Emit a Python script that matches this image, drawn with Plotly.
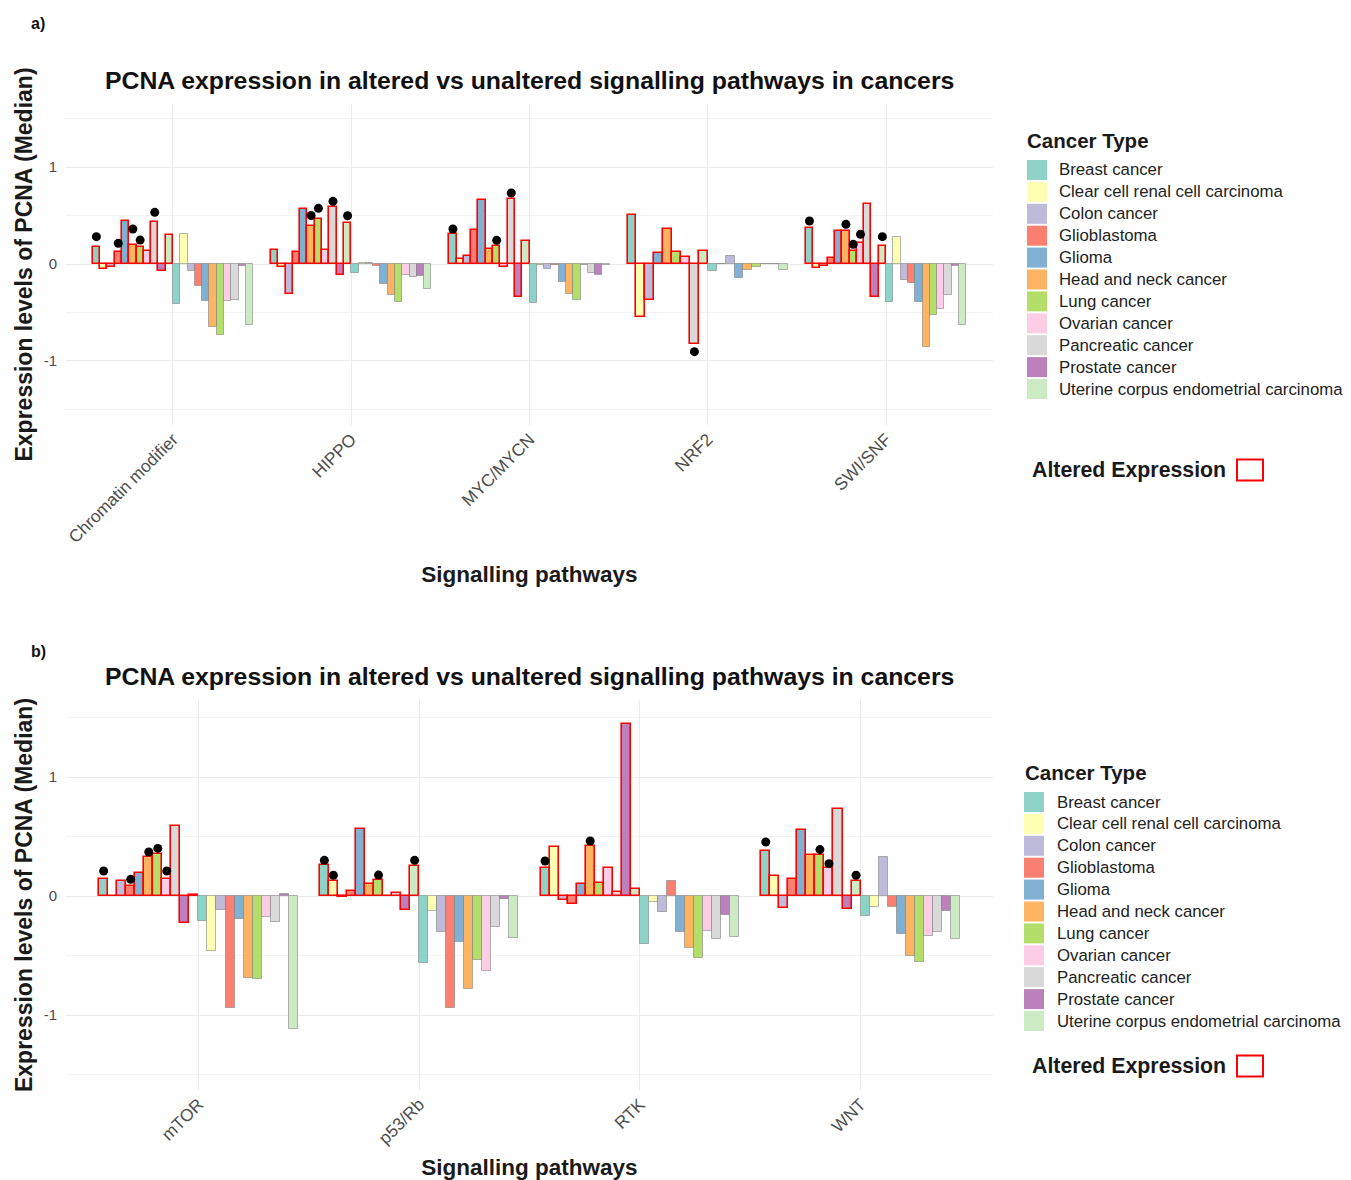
import plotly.graph_objects as go

# ---------------- data ----------------
CANCERS = ["Breast cancer", "Clear cell renal cell carcinoma", "Colon cancer",
           "Glioblastoma", "Glioma", "Head and neck cancer", "Lung cancer",
           "Ovarian cancer", "Pancreatic cancer", "Prostate cancer",
           "Uterine corpus endometrial carcinoma"]
COLORS = ["#8DD3C7", "#FFFFB3", "#BEBADA", "#FB8072", "#80B1D3", "#FDB462",
          "#B3DE69", "#FCCDE5", "#D9D9D9", "#BC80BD", "#CCEBC5"]

# Panel a
A_PATHWAYS = ["Chromatin modifier", "HIPPO", "MYC/MYCN", "NRF2", "SWI/SNF"]
A_ALTERED = [
    [0.179, -0.055, -0.027, 0.124, 0.447, 0.196, 0.179, 0.137, 0.430, -0.069, 0.296],
    [0.141, -0.034, -0.313, 0.124, 0.564, 0.395, 0.467, 0.141, 0.591, -0.110, 0.426],
    [0.309, 0.055, 0.082, 0.351, 0.660, 0.155, 0.189, -0.034, 0.667, -0.337, 0.237],
    [0.505, -0.550, -0.371, None, 0.117, 0.361, 0.127, 0.069, -0.825, None, 0.137],
    [0.375, -0.038, -0.017, 0.058, 0.344, 0.344, 0.134, 0.213, 0.619, -0.340, 0.189],
]
A_UNALTERED = [
    [-0.416, 0.306, -0.069, -0.227, -0.381, -0.646, -0.735, -0.378, -0.371, -0.021, -0.625],
    [-0.096, 0.010, 0.010, -0.020, -0.203, -0.320, -0.392, -0.113, -0.134, -0.127, -0.261],
    [-0.399, -0.005, -0.052, -0.005, -0.182, -0.313, -0.371, -0.005, -0.096, -0.117, -0.010],
    [-0.072, 0.005, 0.082, None, -0.141, -0.065, -0.027, 0.003, -0.003, None, -0.065],
    [-0.392, 0.282, -0.162, -0.199, -0.388, -0.856, -0.529, -0.467, -0.316, -0.024, -0.625],
]
A_DOT_PATHWAY = [0, 0, 0, 0, 0, 1, 1, 1, 1, 2, 2, 2, 3, 4, 4, 4, 4, 4]
A_DOT_CANCER = [0, 3, 5, 6, 8, 5, 6, 8, 10, 0, 6, 8, 8, 0, 5, 6, 7, 10]
A_DOT_VALUE = [0.282, 0.213, 0.361, 0.247, 0.533, 0.500, 0.574, 0.646, 0.498,
               0.361, 0.244, 0.732, -0.904, 0.443, 0.409, 0.203, 0.306, 0.282]

# Panel b
B_PATHWAYS = ["mTOR", "p53/Rb", "RTK", "WNT"]
B_ALTERED = [
    [0.140, 0.003, 0.123, 0.087, 0.190, 0.330, 0.356, 0.140, 0.585, -0.227, 0.010],
    [0.258, 0.126, -0.008, 0.042, 0.560, 0.104, 0.137, 0.003, 0.025, -0.115, 0.252],
    [0.238, 0.415, -0.034, -0.064, 0.098, 0.420, 0.112, 0.232, 0.034, 1.443, 0.062],
    [0.378, 0.171, -0.098, 0.143, 0.557, 0.342, 0.347, 0.232, 0.728, -0.112, 0.126],
]
B_UNALTERED = [
    [-0.213, -0.462, -0.115, -0.938, -0.190, -0.690, -0.695, -0.176, -0.221, 0.020, -1.115],
    [-0.563, -0.126, -0.305, -0.938, -0.387, -0.779, -0.540, -0.630, -0.260, -0.028, -0.353],
    [-0.406, -0.050, -0.132, 0.126, -0.300, -0.440, -0.520, -0.294, -0.360, -0.162, -0.345],
    [-0.171, -0.092, 0.328, -0.092, -0.317, -0.504, -0.557, -0.333, -0.303, -0.126, -0.361],
]
B_DOT_PATHWAY = [0, 0, 0, 0, 0, 1, 1, 1, 1, 2, 2, 3, 3, 3, 3]
B_DOT_CANCER = [0, 3, 5, 6, 7, 0, 1, 6, 10, 0, 5, 0, 6, 7, 10]
B_DOT_VALUE = [0.21, 0.14, 0.37, 0.40, 0.21, 0.30, 0.174, 0.176, 0.30,
               0.294, 0.462, 0.454, 0.39, 0.272, 0.174]

TITLE = "PCNA expression in altered vs unaltered signalling pathways in cancers"
Y_TITLE = "Expression levels of PCNA (Median)"
X_TITLE = "Signalling pathways"
LEGEND_TITLE = "Cancer Type"
ALT_TITLE = "Altered Expression"
FONT = "Liberation Sans, Arial, sans-serif"

# ---------------- page geometry ----------------
OFF = 8                      # default body margin of the html page
W, H = 1351 - OFF, 1180 - OFF


def px(x):
    return (x - OFF) / W


def py(y):
    return 1 - (y - OFF) / H


def dodge(altered, unaltered, total_width=0.9):
    """ggplot-like position_dodge: split each category among the bars present."""
    pos = {}
    for p in range(len(altered)):
        present = [(s, c) for s, vals in enumerate((altered[p], unaltered[p]))
                   for c, v in enumerate(vals) if v is not None]
        w = total_width / len(present)
        for k, (s, c) in enumerate(present):
            pos[(p, s, c)] = (p + 1 - total_width / 2 + (k + 0.5) * w, w)
    return pos


fig = go.Figure()


def add_panel(altered, unaltered, dot_p, dot_c, dot_v, xa, ya):
    pos = dodge(altered, unaltered)
    for s, data in enumerate((altered, unaltered)):
        for c, name in enumerate(CANCERS):
            xs, ys, ws = [], [], []
            for p in range(len(data)):
                v = data[p][c]
                if v is None:
                    continue
                x, w = pos[(p, s, c)]
                xs.append(x); ys.append(v); ws.append(w)
            line = dict(color="red", width=1.6) if s == 0 else \
                dict(color="rgba(120,120,120,0.55)", width=1)
            fig.add_trace(go.Bar(
                x=xs, y=ys, width=ws, name=name + (" (altered)" if s == 0 else ""),
                marker=dict(color=COLORS[c], line=line),
                xaxis=xa, yaxis=ya, showlegend=False))
    dx = [pos[(p, 0, c)][0] for p, c in zip(dot_p, dot_c)]
    fig.add_trace(go.Scatter(
        x=dx, y=dot_v, mode="markers",
        marker=dict(color="black", size=9),
        xaxis=xa, yaxis=ya, showlegend=False))


add_panel(A_ALTERED, A_UNALTERED, A_DOT_PATHWAY, A_DOT_CANCER, A_DOT_VALUE, "x", "y")
add_panel(B_ALTERED, B_UNALTERED, B_DOT_PATHWAY, B_DOT_CANCER, B_DOT_VALUE, "x2", "y2")

XDOM = [px(66), px(993)]
GRID = "#EBEBEB"


def xaxis(labels, anchor, standoff):
    return dict(domain=XDOM, range=[0.4, len(labels) + 0.6],
                tickmode="array", tickvals=list(range(1, len(labels) + 1)),
                ticktext=labels, tickangle=-45, showgrid=True, gridcolor=GRID,
                gridwidth=1, zeroline=False, showline=False, ticks="",
                tickfont=dict(size=17.3, color="#4D4D4D"), anchor=anchor,
                title=dict(text="<b>" + X_TITLE + "</b>",
                           font=dict(size=22.5, color="#1a1a1a"), standoff=standoff))


def yaxis(dom, rng, anchor):
    return dict(domain=dom, range=rng, tickmode="array", tickvals=[-1, 0, 1],
                ticktext=["-1", "0", "1"], showgrid=True, gridcolor=GRID,
                gridwidth=1, zeroline=False, showline=False, ticks="",
                ticklabelstandoff=8,
                minor=dict(tickmode="array", tickvals=[-1.5, -0.5, 0.5, 1.5],
                           showgrid=True, gridcolor="#F3F3F3", gridwidth=0.8),
                tickfont=dict(size=15, color="#4D4D4D"), anchor=anchor,
                title=dict(text="<b>" + Y_TITLE + "</b>",
                           font=dict(size=23, color="#1a1a1a"), standoff=4))


annotations = []
shapes = []
for ytitle in (80, 676):
    annotations.append(dict(
        text="<b>" + TITLE + "</b>", x=sum(XDOM) / 2, y=py(ytitle),
        xref="paper", yref="paper", showarrow=False,
        font=dict(size=24.8, color="#111"), xanchor="center", yanchor="middle"))
for lab, ylab in (("a)", 24), ("b)", 651)):
    annotations.append(dict(
        text="<b>" + lab + "</b>", x=px(29), y=py(ylab), xref="paper", yref="paper",
        showarrow=False, font=dict(size=16, color="#111"),
        xanchor="left", yanchor="middle"))

# legends (one per panel): title, coloured keys, labels, altered-expression key
LEGENDS = [
    dict(title_x=1025, title_y=140, key_x=1027, text_x=1057, first_y=170,
         alt_y=470),
    dict(title_x=1023, title_y=772, key_x=1024, text_x=1055, first_y=802,
         alt_y=1066),
]
STEP = 21.9
for L in LEGENDS:
    annotations.append(dict(
        text="<b>" + LEGEND_TITLE + "</b>", x=px(L["title_x"]), y=py(L["title_y"]),
        xref="paper", yref="paper", showarrow=False, xanchor="left",
        yanchor="middle", font=dict(size=20.5, color="#1a1a1a")))
    for i, (name, col) in enumerate(zip(CANCERS, COLORS)):
        yc = L["first_y"] + i * STEP
        shapes.append(dict(type="rect", xref="paper", yref="paper",
                           x0=px(L["key_x"]), x1=px(L["key_x"] + 20),
                           y0=py(yc - 10), y1=py(yc + 10),
                           fillcolor=col, line=dict(width=0)))
        annotations.append(dict(
            text=name, x=px(L["text_x"]), y=py(yc), xref="paper", yref="paper",
            showarrow=False, xanchor="left", yanchor="middle",
            font=dict(size=16.8, color="#222")))
    annotations.append(dict(
        text="<b>" + ALT_TITLE + "</b>", x=px(1030), y=py(L["alt_y"]),
        xref="paper", yref="paper", showarrow=False, xanchor="left",
        yanchor="middle", font=dict(size=21.3, color="#1a1a1a")))
    shapes.append(dict(type="rect", xref="paper", yref="paper",
                       x0=px(1237), x1=px(1263),
                       y0=py(L["alt_y"] - 10.5), y1=py(L["alt_y"] + 10.5),
                       fillcolor="white", line=dict(color="red", width=2)))

fig.update_layout(
    width=W, height=H, autosize=False,
    margin=dict(l=0, r=0, t=0, b=0),
    paper_bgcolor="white", plot_bgcolor="white",
    font=dict(family=FONT, color="#222"),
    barmode="overlay", bargap=0, showlegend=False,
    xaxis=xaxis(A_PATHWAYS, "y", 20),
    yaxis=yaxis([py(425), py(104)], [-1.66, 1.65], "x"),
    xaxis2=xaxis(B_PATHWAYS, "y2", 12),
    yaxis2=yaxis([py(1090), py(700)], [-1.63, 1.647], "x2"),
    annotations=annotations,
    shapes=shapes,
)

fig.write_html("out.html")
